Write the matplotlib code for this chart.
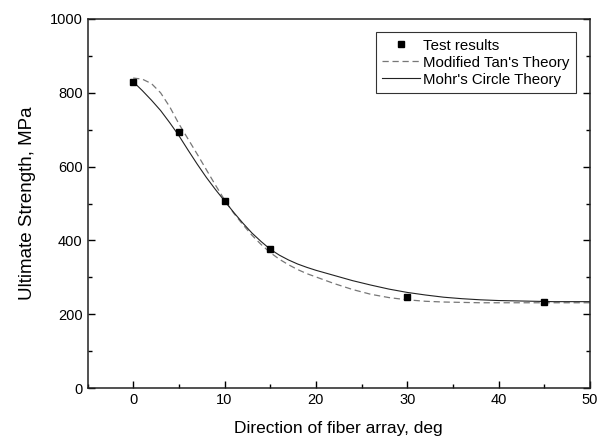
import matplotlib
matplotlib.use("Agg")
import matplotlib.pyplot as plt
from matplotlib.ticker import MultipleLocator

plt.rcParams.update({
    "font.family": ["Liberation Sans", "DejaVu Sans"],
    "font.size": 10.5,
})

# ---------------- data ----------------
test_angle = [0, 5, 10, 15, 30, 45]
test_strength = [830, 693, 507, 376, 246, 233]

# modified Tan's theory (dashed)
tan_angle = [0, 1, 2, 3, 4, 5, 6, 7, 8, 9, 10, 11, 12, 13, 14, 15, 16, 17, 18,
             19, 20, 22, 24, 26, 28, 30, 32, 34, 36, 38, 40, 44, 50]
tan_strength = [840, 837, 825, 800, 762, 716, 675, 634, 592, 550, 510, 474, 443,
                414, 389, 367, 349, 334, 321, 310, 301, 283, 267, 254, 245, 239,
                235, 233, 232, 231, 231, 231, 231]

# Mohr's circle theory (solid)
mohr_angle = [0, 1, 2, 3, 4, 5, 6, 7, 8, 9, 10, 11, 12, 13, 14, 15, 16, 17, 18,
              19, 20, 22, 24, 26, 28, 30, 32, 34, 36, 38, 40, 42, 44, 46, 50]
mohr_strength = [830, 806, 780, 752, 719, 684, 645, 607, 571, 538, 507, 476,
                 447, 420, 397, 376, 360, 347, 336, 327, 319, 305, 291, 279, 268,
                 259, 252, 246, 242, 239, 237, 236, 235, 234, 234]

# ---------------- plot ----------------
fig = plt.figure(figsize=(6.03, 4.41), dpi=100)
ax = fig.add_axes([87.5 / 603, 53 / 441, 502.5 / 603, 369 / 441])

ax.plot(tan_angle, tan_strength, color="#777777", lw=0.9, ls=(0, (5, 3)),
        label="Modified Tan's Theory", zorder=2)
ax.plot(mohr_angle, mohr_strength, color="#222222", lw=0.8,
        label="Mohr's Circle Theory", zorder=2)
ax.plot(test_angle, test_strength, ls="none", marker="s", ms=5, color="black",
        label="Test results", zorder=3)

ax.set_xlim(-5, 50)
ax.set_ylim(0, 1000)
ax.xaxis.set_major_locator(MultipleLocator(10))
ax.xaxis.set_minor_locator(MultipleLocator(5))
ax.yaxis.set_major_locator(MultipleLocator(200))
ax.yaxis.set_minor_locator(MultipleLocator(100))
ax.tick_params(which="both", direction="in", right=True, top=False,
               width=1.0, labelsize=10.5)
ax.tick_params(which="major", length=5)
ax.tick_params(which="minor", length=3)
for s in ax.spines.values():
    s.set_linewidth(1.1)
    s.set_color("#222222")

ax.set_xlabel("Direction of fiber array, deg", fontsize=12.5, labelpad=10)
ax.set_ylabel("Ultimate Strength, MPa", fontsize=13.5, labelpad=10)

h, l = ax.get_legend_handles_labels()
leg = ax.legend([h[2], h[0], h[1]], [l[2], l[0], l[1]], loc="upper right",
                bbox_to_anchor=(0.972, 0.965), fontsize=10.8, frameon=True,
                fancybox=False, handlelength=2.5, borderpad=0.45,
                labelspacing=0.2, handletextpad=0.2, borderaxespad=0)
leg.get_frame().set_edgecolor("black")
leg.get_frame().set_linewidth(0.8)

fig.savefig("out.png", dpi=100)
